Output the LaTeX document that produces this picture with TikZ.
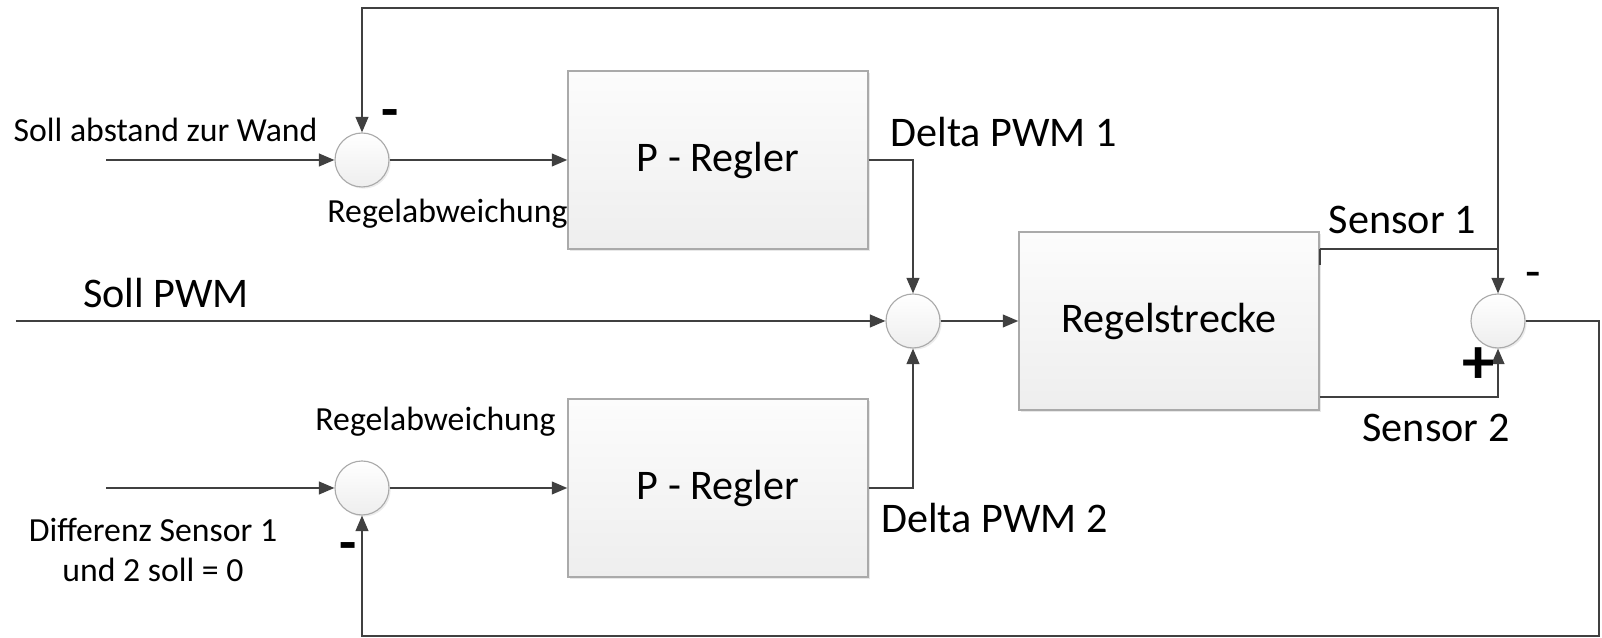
\documentclass[tikz,border=0pt]{standalone}
\usepackage{fontspec}
\setmainfont{Carlito}
\usepackage{xcolor}
\definecolor{wiregray}{RGB}{64, 64, 64}
\definecolor{framegray}{RGB}{170, 170, 170}
\definecolor{filltop}{RGB}{252, 252, 252}
\definecolor{fillbot}{RGB}{238, 238, 238}
\usepackage{tikz}
\usetikzlibrary{arrows.meta, positioning, calc, shadows}

\begin{document}
\begin{tikzpicture}[>={Triangle[length=5.5pt, width=4.5pt]},
    block/.style={draw=framegray, line width=0.5pt, top color=filltop, bottom color=fillbot,
        minimum width=3.75cm, minimum height=2.225cm, inner sep=0pt,
        drop shadow={shadow xshift=0.7pt, shadow yshift=-0.7pt, opacity=0.18},
        font=\fontsize{15}{18}\selectfont},
    sumnode/.style={circle, draw=framegray, line width=0.4pt, top color=white, bottom color=fillbot,
        minimum size=0.675cm, inner sep=0pt,
        drop shadow={shadow xshift=0.6pt, shadow yshift=-0.6pt, opacity=0.15}},
    sig/.style={->, draw=wiregray, line width=0.7pt},
    big/.style={font=\fontsize{15}{18}\selectfont, inner sep=0pt},
    small/.style={font=\fontsize{12}{14.4}\selectfont, inner sep=0pt, align=center},
    sign/.style={font=\fontsize{20}{22}\selectfont\bfseries, inner sep=0pt}]
    \useasboundingbox (0,0) rectangle (20.025,7.975);

    % blocks and summing points
    \node[block] (regler1) at (8.975,5.975) {P - Regler};
    \node[block] (regler2) at (8.975,1.875) {P - Regler};
    \node[block] (strecke) at (14.6125,3.9625) {Regelstrecke};
    \node[sumnode] (sum1) at (4.525,5.975) {};
    \node[sumnode] (sum2) at (11.4125,3.9625) {};
    \node[sumnode] (sum3) at (18.725,3.9625) {};
    \node[sumnode] (sum4) at (4.525,1.875) {};

    % free ends and corners of the wires
    \coordinate (in1) at (1.325,5.975);
    \coordinate (in2) at (0.2,3.9625);
    \coordinate (in3) at (1.325,1.875);
    \coordinate (sen1) at ($(strecke.east)+(0,0.9)$);
    \coordinate (sen2) at ($(strecke.east)+(0,-0.95)$);
    \coordinate (topright) at (18.725,7.875);
    \coordinate (outright) at (19.9875,3.9625);
    \coordinate (outbottom) at (19.9875,0.025);

    % forward paths
    \draw[sig] (in1) -- (sum1);
    \draw[sig] (sum1) -- (regler1);
    \draw[sig] (in3) -- (sum4);
    \draw[sig] (sum4) -- (regler2);
    \draw[sig] (in2) -- (sum2);
    \draw[sig] (regler1.east) -| (sum2.north);
    \draw[sig] (regler2.east) -| (sum2.south);
    \draw[sig] (sum2) -- (strecke);

    % sensor outputs and feedback
    \draw[wiregray, line width=0.7pt] (sen1) -- ++(0,-0.2);
    \draw[sig] (sen1) -| (sum3.north);
    \draw[sig] (sum3.north |- sen1) -- (topright) -| (sum1.north);
    \draw[sig] (sen2) -| (sum3.south);
    \draw[sig] (sum3) -- (outright) -- (outbottom) -| (sum4.south);

    % labels
    \node[small] (lwand) at (2.07,6.35) {Soll abstand zur Wand};
    \node[big] (lpwm) at (2.075,4.3125) {Soll PWM};
    \node[small] (ldiff) at (1.9125,1.1) {Differenz Sensor 1\\und 2 soll = 0};
    \node[small] (labw1) at (5.594,5.3) {Regelabweichung};
    \node[small] (labw2) at (5.444,2.705) {Regelabweichung};
    \node[big] (ldelta1) at (12.544,6.33) {Delta PWM 1};
    \node[big] (ldelta2) at (12.43,1.5) {Delta PWM 2};
    \node[big] (lsens1) at (17.53,5.225) {Sensor 1};
    \node[big] (lsens2) at (17.95,2.625) {Sensor 2};

    % signs at the summing points
    \node[sign] (minus1) at (4.875,6.49) {-};
    \node[sign] (minus4) at (4.35,1.08) {-};
    \node[sign, font=\fontsize{18}{20}\selectfont] (minus3) at (19.16,4.47) {-};
    \node[sign, font=\fontsize{23}{24}\selectfont\bfseries] (plus3) at (18.48,3.41) {+};
\end{tikzpicture}
\end{document}
